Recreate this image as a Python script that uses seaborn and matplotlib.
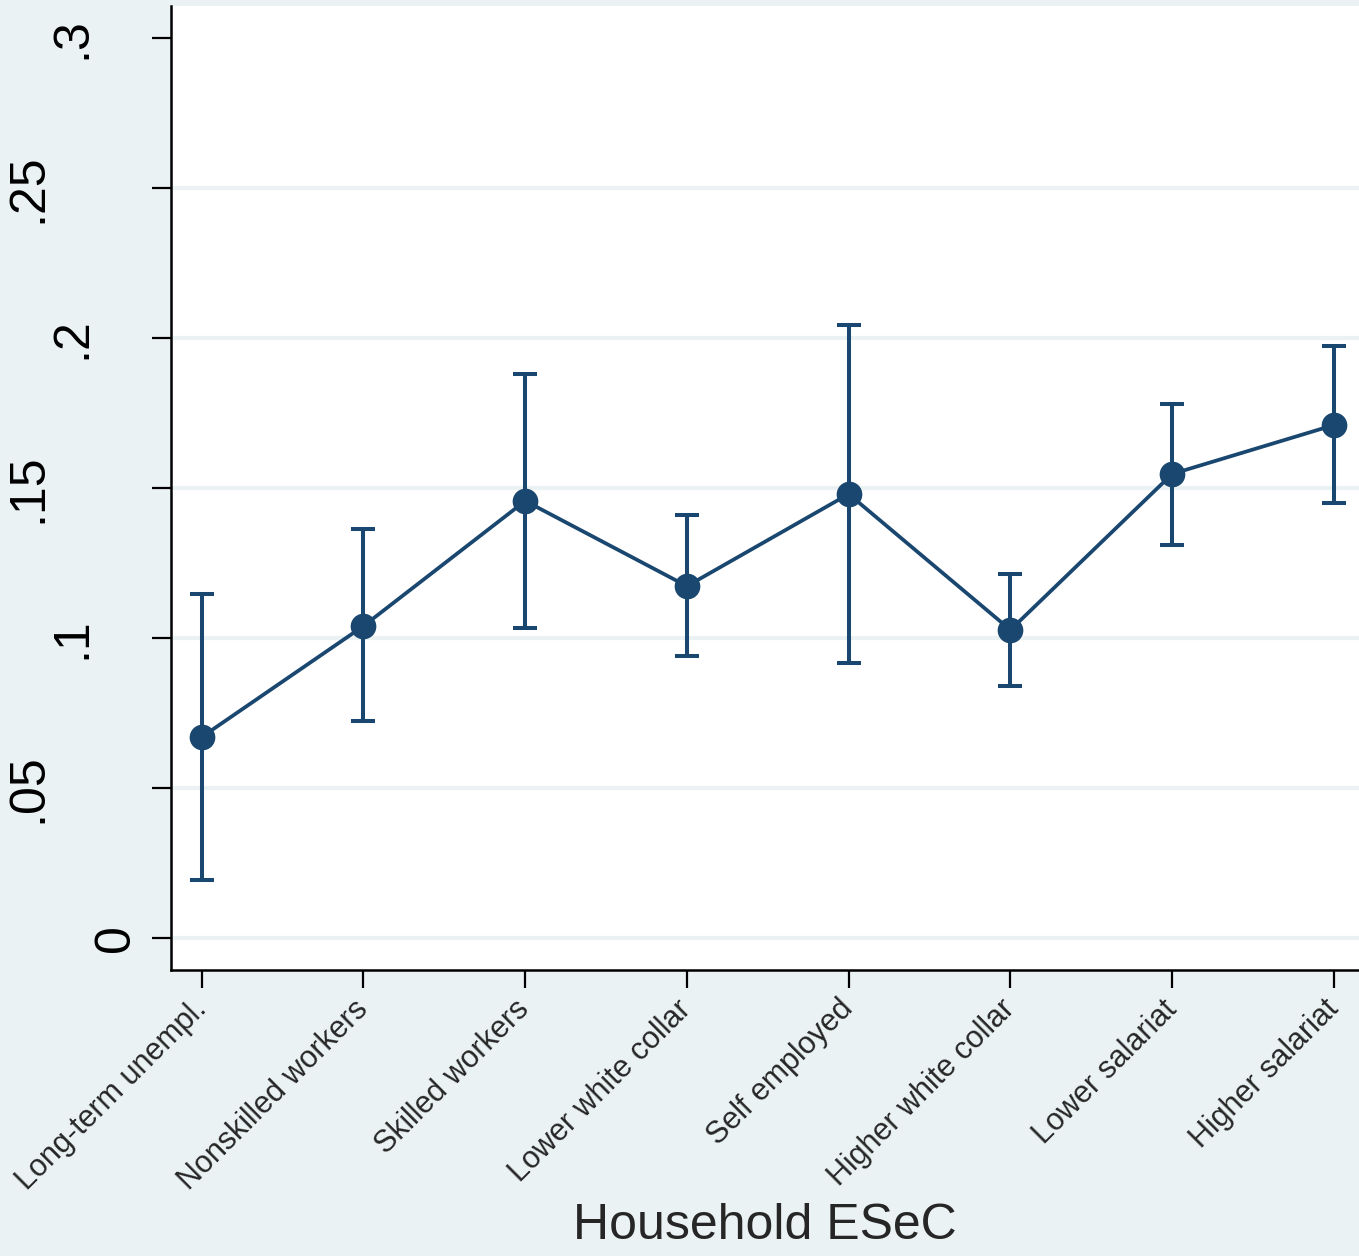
import matplotlib
matplotlib.use("Agg")
import matplotlib.pyplot as plt
import seaborn as sns
import pandas as pd
import numpy as np

# Predicted share by household ESeC class, with 95% confidence limits
categories = ["Long-term unempl.", "Nonskilled workers", "Skilled workers",
              "Lower white collar", "Self employed", "Higher white collar",
              "Lower salariat", "Higher salariat"]
estimate = [0.067, 0.104, 0.1457, 0.1173, 0.148, 0.1027, 0.1547, 0.171]
ci_low = [0.0193, 0.0723, 0.1033, 0.094, 0.0917, 0.084, 0.131, 0.145]
ci_high = [0.1147, 0.1363, 0.188, 0.141, 0.2043, 0.1213, 0.178, 0.1973]

y_ticks = [0, 0.05, 0.1, 0.15, 0.2, 0.25, 0.3]
y_tick_labels = ["0", ".05", ".1", ".15", ".2", ".25", ".3"]
x_title = "Household ESeC"

NAVY = "#1A476F"
BACK = "#EAF2F3"
GRID = "#EAF2F3"

sns.set_style("white")
plt.rcParams["font.family"] = ["Liberation Sans", "DejaVu Sans"]

df = pd.DataFrame({"cls": categories, "est": estimate,
                   "lo": ci_low, "hi": ci_high})

W, H = 1359, 1256
fig = plt.figure(figsize=(W / 100, H / 100), dpi=100, facecolor=BACK)
ax = fig.add_axes([171 / W, 1 - 970 / H, (W - 171) / W, (970 - 6) / H])
ax.set_facecolor("white")

# confidence intervals
yerr = np.vstack([df["est"] - df["lo"], df["hi"] - df["est"]])
ax.errorbar(df["cls"], df["est"], yerr=yerr, fmt="none", ecolor=NAVY,
            elinewidth=2.9, capsize=8.3, capthick=2.9, zorder=3)

# point estimates connected by a line
sns.lineplot(data=df, x="cls", y="est", sort=False, errorbar=None,
             color=NAVY, linewidth=2.7, marker="o", markersize=18.5,
             markeredgewidth=0, ax=ax, zorder=4)

ax.set_xlim(-0.19, 7.155)
ax.set_ylim(-0.01067, 0.3107)

# y axis: ticks, gridlines and rotated labels
ax.set_yticks(y_ticks)
ax.set_yticklabels([])
ax.tick_params(axis="y", length=14, width=1.6, color="black", left=True)
for v in y_ticks[:-1]:
    ax.axhline(v, color=GRID, linewidth=3, zorder=1)
for v, lab in zip(y_ticks, y_tick_labels):
    off = (32 + 44 * (len(lab) - 1)) * 0.72
    ax.annotate(lab, xy=(0, v), xycoords=("axes fraction", "data"),
                xytext=(-off, 0), textcoords="offset points",
                rotation=90, ha="right", va="center", fontsize=36,
                color="black", annotation_clip=False)

# x axis
ax.tick_params(axis="x", length=13, width=1.6, color="black", bottom=True,
               pad=12, labelsize=22)
ax.set_xticks(range(len(categories)))
ax.set_xticklabels(categories, rotation=45, ha="right",
                   rotation_mode="anchor", va="center")
ax.set_xlabel(x_title, fontsize=36, va="top")
ax.xaxis.set_label_coords(0.5, -0.2417)
ax.set_ylabel("")

for side in ["top", "right"]:
    ax.spines[side].set_visible(False)
for side in ["left", "bottom"]:
    ax.spines[side].set_color("black")
    ax.spines[side].set_linewidth(1.8)

fig.savefig("out.png", dpi=100, facecolor=BACK)
